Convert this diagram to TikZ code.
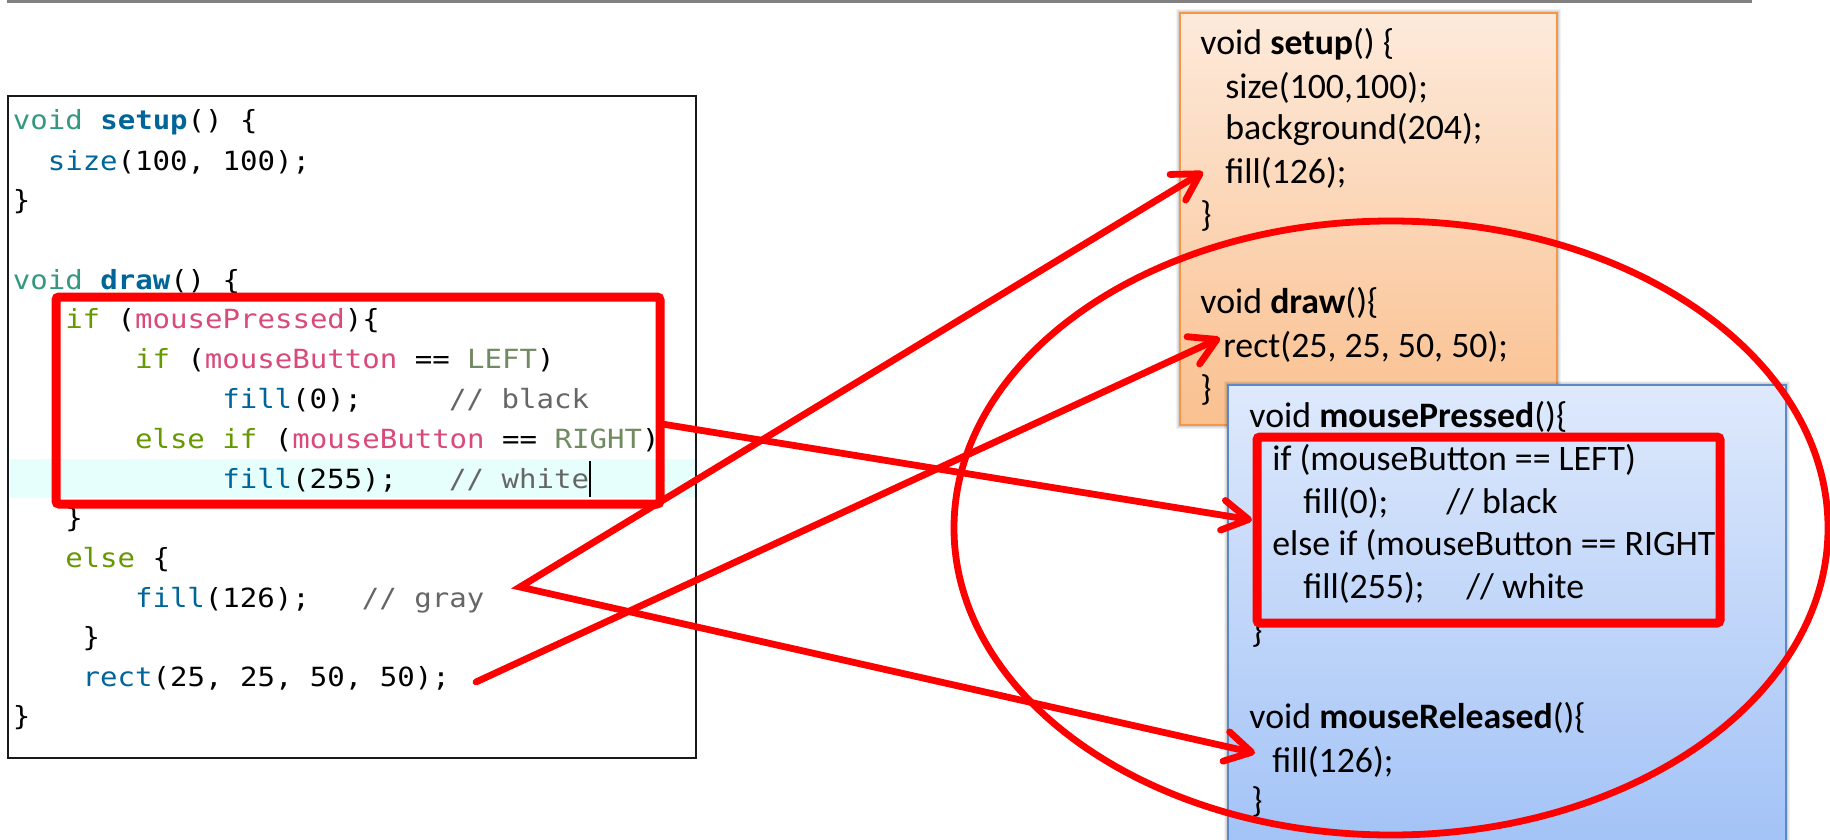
\documentclass[tikz,border=0pt]{standalone}
\usepackage{fontspec}
\newfontfamily\codefont{DejaVu Sans Mono}[FakeStretch=1.1]
\newfontfamily\boxfont{Carlito}
\usetikzlibrary{arrows.meta,fit}

% Processing editor syntax colours
\definecolor{pvoid}{HTML}{33997E}
\definecolor{pfunc}{HTML}{006699}
\definecolor{pkey}{HTML}{669900}
\definecolor{pvar}{HTML}{D94A7A}
\definecolor{pconst}{HTML}{718A62}
\definecolor{pcomment}{HTML}{666666}
\definecolor{curline}{HTML}{E6FFFD}
% box colours
\definecolor{orTop}{RGB}{253,234,219}
\definecolor{orBot}{RGB}{250,192,143}
\definecolor{orEdge}{HTML}{F79646}
\definecolor{blTop}{RGB}{222,233,252}
\definecolor{blBot}{RGB}{162,194,246}
\definecolor{blEdge}{RGB}{90,137,200}
\definecolor{rulegray}{RGB}{128,128,128}
\definecolor{markred}{RGB}{255,0,0}

\newcommand{\kw}[1]{\textcolor{pkey}{#1}}
\newcommand{\fn}[1]{\textcolor{pfunc}{#1}}
\newcommand{\vr}[1]{\textcolor{pvar}{#1}}
\newcommand{\cs}[1]{\textcolor{pconst}{#1}}
\newcommand{\vd}{\textcolor{pvoid}{void}}

\begin{document}
\begin{tikzpicture}[x=0.5pt,y=-0.5pt,
  ctext/.style={anchor=base west, inner sep=0pt, font={\codefont\fontsize{13.2pt}{15pt}\selectfont}},
  comment/.style={ctext, text=pcomment},
  btext/.style={anchor=base west, inner sep=0pt, font={\boxfont\fontsize{17.9pt}{21pt}\selectfont}},
  frame/.style={inner sep=0pt, outer sep=0pt},
  hl/.style={draw=markred, line width=3.4pt, line cap=round, line join=round},
  hlbox/.style={frame, draw=markred, line width=4.5pt, rounded corners=1.5pt},
  barb/.tip={Straight Barb[length=13pt,width=15pt,round]},
  pointer/.style={hl, -barb},
]
\useasboundingbox (0,0) rectangle (1830,840);

% rule along the top edge
\draw[rulegray, line width=1.5pt] (7,1.5) -- (1752,1.5);

% ---------- editor window with the original sketch ----------
\node[frame, fit={(8,96) (696,758)}, draw=black!90, line width=1.25pt, fill=white] (editor) {};
\node[frame, fit={(9.5,459) (694.5,498)}, fill=curline] (cur) {};

\node[ctext] (lc0)  at (12.5,130)  {\vd{} \fn{\textbf{setup}}() \{};
\node[ctext] (lc1)  at (47.4,170)  {\fn{size}(100, 100);};
\node[ctext] (lc2)  at (12.5,209)  {\}};
\node[ctext] (lc4)  at (12.5,289)  {\vd{} \fn{\textbf{draw}}() \{};
\node[ctext] (lc5)  at (64.85,328) {\kw{if} (\vr{mousePressed})\{};
\node[ctext] (lc6)  at (134.65,368) {\kw{if} (\vr{mouseButton} == \cs{LEFT})};
\node[ctext] (lc7)  at (221.9,408) {\fn{fill}(0);};
\node[comment] (cm7) at (448.75,408) {// black};
\node[ctext] (lc8)  at (134.65,448) {\kw{else} \kw{if} (\vr{mouseButton} == \cs{RIGHT})};
\node[ctext] (lc9)  at (221.9,488) {\fn{fill}(255);};
\node[comment] (cm9) at (448.75,488) {// white};
\node[ctext] (lc10) at (64.85,527) {\}};
\node[ctext] (lc11) at (64.85,567) {\kw{else} \{};
\node[ctext] (lc12) at (134.65,607) {\fn{fill}(126);};
\node[comment] (cm12) at (361.5,607) {// gray};
\node[ctext] (lc13) at (82.3,646)  {\}};
\node[ctext] (lc14) at (82.3,686)  {\fn{rect}(25, 25, 50, 50);};
\node[ctext] (lc15) at (12.5,725)  {\}};
% text cursor
\draw[black, line width=0.8pt] (590,461) -- (590,497);

% ---------- setup / draw box ----------
\foreach \g/\o in {4/0.05,3/0.06,2/0.08}
  \fill[black, opacity=\o] (1180-\g,13-\g) rectangle (1557+\g,425+\g);
\node[frame, fit={(1180,13) (1557,425)}, top color=orTop, bottom color=orBot,
      draw=orEdge, line width=1.2pt] (orbox) {};
\node[btext] (o1) at (1200,55)  {void \textbf{setup}() \{};
\node[btext] (o2) at (1225,98)  {size(100,100);};
\node[btext] (o3) at (1225,140) {background(204);};
\node[btext] (o4) at (1225,183) {fill(126);};
\node[btext] (o5) at (1200,226) {\}};
\node[btext] (o6) at (1200,313) {void \textbf{draw}()\{};
\node[btext] (o7) at (1223,357) {rect(25, 25, 50, 50);};
\node[btext] (o8) at (1200,400) {\}};

% ---------- mouse event box ----------
\foreach \g/\o in {4/0.05,3/0.06,2/0.08}
  \fill[black, opacity=\o] (1228-\g,385-\g) rectangle (1786+\g,850);
\node[frame, fit={(1228,385) (1786,850)}, top color=blTop, bottom color=blBot,
      draw=blEdge, line width=1pt] (blbox) {};
\node[btext] (b1) at (1249,427) {void \textbf{mousePressed}()\{};
\node[btext] (b2) at (1272,470) {if (mouseButton == LEFT)};
\node[btext] (b3) at (1303,513) {fill(0);};
\node[btext] (b3c) at (1446,513) {// black};
\node[btext] (b4) at (1272,555) {else if (mouseButton == RIGHT)};
\node[btext] (b5) at (1303,598) {fill(255);};
\node[btext] (b5c) at (1466,598) {// white};
\node[btext] (b6) at (1251,642) {\}};
\node[btext] (b7) at (1249,728) {void \textbf{mouseReleased}()\{};
\node[btext] (b8) at (1272,772) {fill(126);};
\node[btext] (b9) at (1251,812) {\}};

% ---------- red markings ----------
\node[hlbox, fit={(56,297) (660,504)}] (hlLeft) {};
\node[hlbox, fit={(1257,437) (1720,623)}] (hlRight) {};

\coordinate (v)      at (520,587);
\coordinate (sRect)  at (476,682);
\coordinate (sPress) at (662,424);
\coordinate (tSetup) at (1203,172);
\coordinate (tDraw)  at (1220,338);
\coordinate (tPress) at (1252,520);
\coordinate (tRel)   at (1255,753);

\draw[hl, barb-barb, line join=miter] (tSetup) -- (v) -- (tRel);
\draw[pointer] (sRect) -- (tDraw);
\draw[pointer] (sPress) -- (tPress);

\draw[markred, line width=3.4pt] (1391,528) ellipse [x radius=218.5pt, y radius=153.5pt];
\end{tikzpicture}
\end{document}
